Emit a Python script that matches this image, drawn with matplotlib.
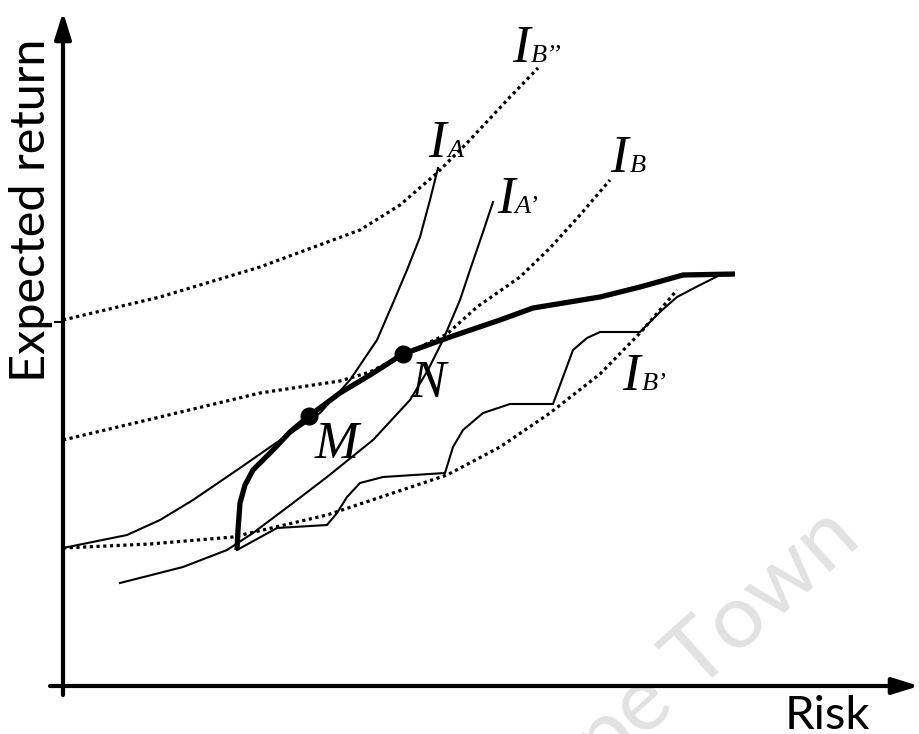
import matplotlib
matplotlib.use("Agg")
import matplotlib.pyplot as plt

# indifference curves and the efficient frontier (risk, expected return)
ib2_x = [0, 97, 197, 297, 337, 374, 404, 447, 475]
ib2_y = [366, 389, 419, 456, 481, 513, 543, 589, 618]

ib_x = [0, 97, 197, 277, 307, 340, 384, 414, 457, 487, 517, 547]
ib_y = [246, 269, 293, 305, 314, 331, 352, 379, 409, 438, 471, 506]

ib1_x = [0, 87, 170, 264, 384, 437, 487, 537, 577, 597, 614]
ib1_y = [138, 142, 149, 171, 211, 239, 273, 312, 353, 376, 396]

ia_x = [0, 64, 97, 130, 177, 210, 237, 257, 287, 314, 330, 344, 357, 367, 375]
ia_y = [138, 151, 166, 186, 218, 241, 259, 273, 306, 346, 383, 416, 449, 486, 518]

ia1_x = [57, 120, 164, 190, 230, 264, 310, 347, 365, 380, 397, 407, 419, 430]
ia1_y = [103, 119, 136, 153, 183, 209, 246, 286, 316, 346, 386, 416, 451, 484]

front_x = [174, 175, 177, 182, 190, 210, 227, 246, 277, 307, 340, 387, 437, 470, 537, 577, 620, 672]
front_y = [136, 156, 183, 201, 216, 236, 254, 270, 293, 311, 332, 349, 366, 378, 389, 399, 411, 412]

low_x = [174, 214, 264, 274, 284, 297, 320, 382, 390, 400, 420, 447, 490, 500, 510, 524, 537, 577, 597, 614, 637, 657]
low_y = [136, 158, 161, 173, 189, 203, 209, 213, 239, 256, 273, 282, 282, 309, 336, 348, 354, 354, 374, 389, 401, 411]

pts_x = [246, 340]
pts_y = [270, 332]

fig = plt.figure(figsize=(9.2, 7.34), dpi=100)
ax = fig.add_axes([0, 0, 1, 1])
ax.set_xlim(-63, 857)
ax.set_ylim(-48, 686)
ax.axis("off")

dot = dict(color="black", lw=2.3, linestyle=(0, (1, 1.1)), dash_capstyle="butt")
for xs, ys in [(ib2_x, ib2_y), (ib_x, ib_y), (ib1_x, ib1_y)]:
    ax.plot(xs, ys, **dot, zorder=2)

ax.plot(ia_x, ia_y, color="black", lw=1.5, zorder=3)
ax.plot(ia1_x, ia1_y, color="black", lw=1.5, zorder=3)
ax.plot(low_x, low_y, color="black", lw=1.5, zorder=3)
ax.plot(front_x, front_y, color="black", lw=3.8, solid_capstyle="butt", zorder=4)
ax.plot(pts_x, pts_y, "o", color="black", ms=12, zorder=5)

# axes with arrows
arr = dict(arrowstyle="-|>,head_length=1.6,head_width=0.5", lw=3, color="black",
           shrinkA=0, shrinkB=0)
ax.annotate("", xy=(0, 674), xytext=(0, -9), arrowprops=arr)
ax.annotate("", xy=(856, 0), xytext=(-13, 0), arrowprops=arr)
ax.plot([-8, 0], [364, 364], color="black", lw=1.5)

sans = "Lato"
ax.text(-32, 476, "Expected return", rotation=90, fontsize=35, family=sans,
        ha="center", va="center")
ax.text(722, -43, "Risk", fontsize=34, family=sans, ha="left", va="baseline")

# curve labels
serif = dict(family="Liberation Serif", style="italic", color="black", va="baseline", ha="left")
labels = [(449, 624, 468, "B\u2019\u2019"), (365, 529, 384, "A"), (434, 473, 451, "A\u2019"),
          (547, 514, 567, "B"), (559, 296, 579, "B\u2019")]
for xi, yi, xs, sub in labels:
    ax.text(xi, yi, "I", fontsize=38, **serif)
    ax.text(xs, yi, sub, fontsize=19, **serif)
ax.text(252, 228, "M", fontsize=38, **serif)
ax.text(347, 289, "N", fontsize=38, **serif)

# watermark
wm = dict(color="#e2e2e2", fontsize=65, family=sans, rotation=42,
          rotation_mode="anchor", va="baseline", zorder=0)
ax.text(632, -6, "Cape ", ha="right", **wm)
ax.text(632, -6, "Town", ha="left", **wm)

fig.savefig("out.png", dpi=100)
